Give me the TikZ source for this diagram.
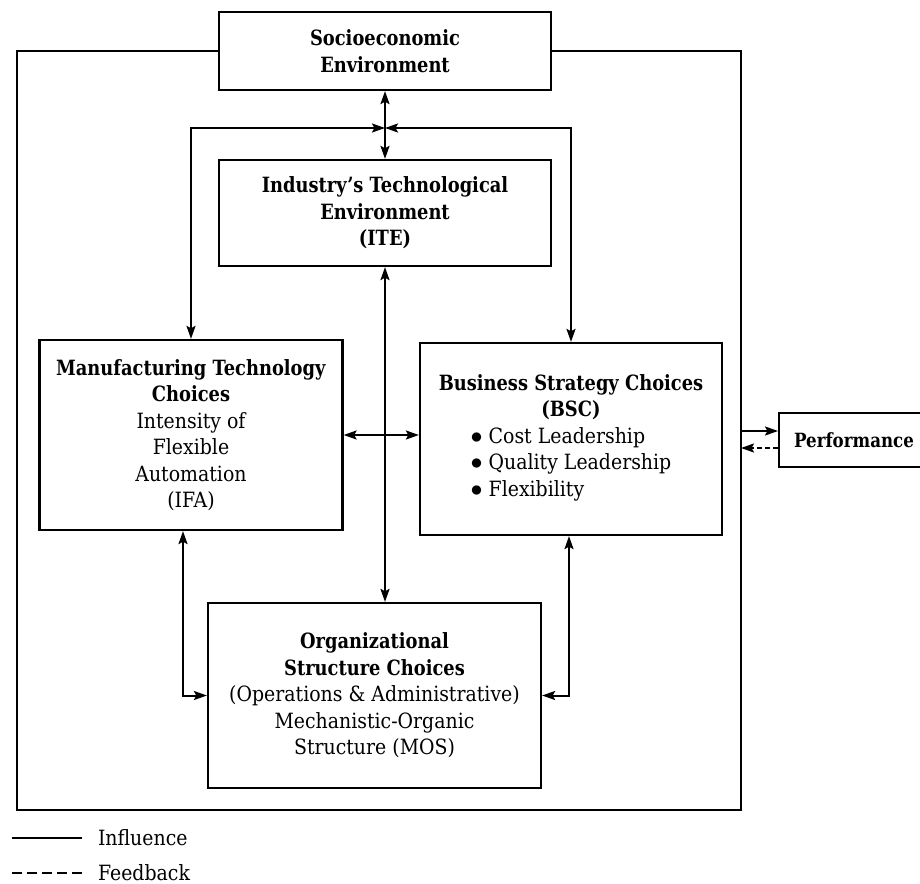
\documentclass[tikz,border=0pt]{standalone}
\usepackage{fontspec}
\setmainfont{DejaVu Serif}[FakeStretch=0.9,BoldFeatures={FakeStretch=0.85}]
\usetikzlibrary{arrows.meta}
\begin{document}
\begin{tikzpicture}[x=0.5pt,y=-0.5pt,
  line width=1pt,
  >={Stealth[length=6.5pt,width=4.5pt,inset=1.2pt]},
  box/.style={draw,line width=1.1pt,align=center,inner sep=0pt,font=\fontsize{10.5}{13.25}\selectfont},
  fb/.style={dash pattern=on 2.5pt off 1.5pt},
  legtext/.style={anchor=west,inner xsep=7.5pt,font=\fontsize{10.5}{13.25}\selectfont}
]
\useasboundingbox (0,0) rectangle (920,883);

\node[box,minimum width=166pt,minimum height=39pt] (soc) at (385,51)
  {\textbf{Socioeconomic}\\ \textbf{Environment}};
\node[box,minimum width=166pt,minimum height=53pt] (ite) at (385,213)
  {\textbf{Industry's Technological}\\ \textbf{Environment}\\ \textbf{(ITE)}};
\node[box,minimum width=151.5pt,minimum height=95pt] (mtc) at (191,435)
  {\textbf{Manufacturing Technology}\\ \textbf{Choices}\\ Intensity of\\ Flexible\\ Automation\\ (IFA)};
\node[box,minimum width=151pt,minimum height=96pt] (bsc) at (571,439)
  {\textbf{Business Strategy Choices}\\ \textbf{(BSC)}\\
   \begin{tabular}[t]{@{}l@{}}{\large$\bullet$}\hspace{3pt}Cost Leadership\\ {\large$\bullet$}\hspace{3pt}Quality Leadership\\ {\large$\bullet$}\hspace{3pt}Flexibility\end{tabular}};
\node[box,minimum width=166.5pt,minimum height=92.5pt] (osc) at (374.5,695.5)
  {\textbf{Organizational}\\ \textbf{Structure Choices}\\ (Operations \& Administrative)\\ Mechanistic-Organic\\ Structure (MOS)};
\node[box,anchor=west,inner xsep=7.5pt,minimum height=27pt,text width=75pt,align=left,font=\fontsize{9.8}{12}\selectfont] (perf) at (778,440)
  {\textbf{Performance}};

% outer frame
\coordinate (fbl) at (17,810);
\coordinate (fbr) at (741,810);
\draw (soc.west) -| (fbl) -| (fbr) |- (soc.east);

% central cross
\coordinate (cross) at (385,128);
\draw[<->] (soc.south) -- (ite.north);
\draw[<->] (cross) -| (mtc.north);
\draw[<->] (cross) -| (bsc.north);
\draw[<->] (ite.south) -- (ite.south |- osc.north);
\draw[<->] (mtc.east) -- (mtc.east -| bsc.west);
\draw[<->] ([xshift=-4pt]mtc.south) |- (osc.west);
\draw[<->] ([xshift=-1pt]bsc.south) |- (osc.east);

% performance
\coordinate (pin) at (741,431);
\coordinate (pout) at (741,448);
\draw[->] (pin) -- (pin -| perf.west);
\draw[->,fb] (pout -| perf.west) -- (pout);

% legend
\coordinate (la) at (12,838);
\node[legtext] (infl) at (82,838) {Influence};
\draw (la) -- (infl.west);
\coordinate (lb) at (12,873);
\node[legtext] (feed) at (82,873) {Feedback};
\draw[dash pattern=on 5pt off 2.5pt] (lb) -- (feed.west);
\end{tikzpicture}
\end{document}
